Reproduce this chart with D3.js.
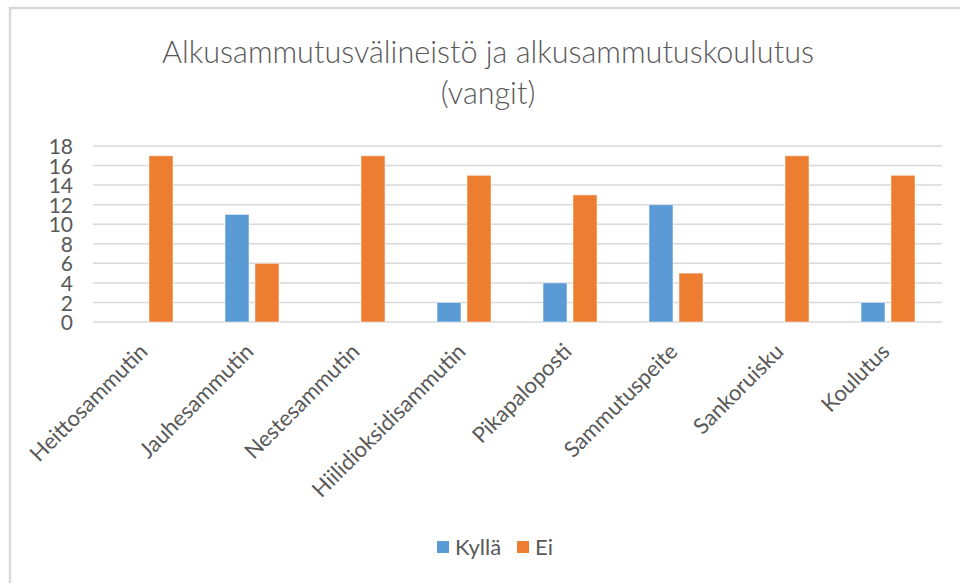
<!DOCTYPE html>
<html><head><meta charset="utf-8">
<script src="https://cdn.jsdelivr.net/npm/d3@7"></script>
<style>html,body{margin:0;padding:0;background:#fff;}svg{display:block;}</style>
</head><body>
<svg id="chart" width="960" height="583"></svg>
<script>
const categories = ["Heittosammutin","Jauhesammutin","Nestesammutin","Hiilidioksidisammutin","Pikapaloposti","Sammutuspeite","Sankoruisku","Koulutus"];
const seriesNames = ["Kyllä","Ei"];
const kylla = [0,11,0,2,4,12,0,2];
const ei = [17,6,17,15,13,5,17,15];
const yTicks = [0,2,4,6,8,10,12,14,16,18];
const titleLines = ["Alkusammutusvälineistö ja alkusammutuskoulutus","(vangit)"];
const colors = ["#5B9BD5","#ED7D31"];

(function(){
const FONT = "Lato, 'Open Sans', sans-serif";
const svg = d3.select("#chart");
svg.append("rect").attr("x",0).attr("y",0).attr("width",960).attr("height",583).attr("fill","#fff");
svg.append("rect").attr("x",10).attr("y",8).attr("width",1200).attr("height",1200)
  .attr("fill","none").attr("stroke","#d9d9d9").attr("stroke-width",2.5);

const mLeft = 93, mRight = 941, mTop = 146, mBottom = 322;
const x = d3.scaleBand().domain(categories).range([mLeft,mRight]).paddingInner(0).paddingOuter(0);
const x1 = d3.scaleBand().domain(seriesNames).range([26, x.bandwidth()-26]).paddingInner(0.2);
const y = d3.scaleLinear().domain([0,18]).range([mBottom,mTop]);

svg.append("g").selectAll("line").data(yTicks).join("line")
  .attr("x1",mLeft).attr("x2",mRight+1)
  .attr("y1",d=>y(d)).attr("y2",d=>y(d))
  .attr("stroke","#d9d9d9").attr("stroke-width",1.5);

const yAxis = d3.axisLeft(y).tickValues(yTicks).tickSize(0).tickPadding(0);
const gy = svg.append("g").attr("transform",`translate(73,0)`).call(yAxis);
gy.select(".domain").remove();
gy.selectAll("text").attr("font-family",FONT).attr("font-size",21).attr("fill","#595959").attr("dy","0.36em");

const data = categories.map((c,i)=>({c, vals:[kylla[i],ei[i]]}));
const groups = svg.append("g").selectAll("g").data(data).join("g")
  .attr("transform",d=>`translate(${x(d.c)},0)`);
groups.selectAll("rect").data(d=>d.vals.map((v,j)=>({s:seriesNames[j],v,j})).filter(d=>d.v>0)).join("rect")
  .attr("x",d=>x1(d.s)).attr("width",x1.bandwidth())
  .attr("y",d=>y(d.v)).attr("height",d=>y(0)-y(d.v))
  .attr("fill",d=>colors[d.j]).attr("stroke","#fff").attr("stroke-opacity",0.5).attr("stroke-width",1);

svg.append("g").selectAll("text").data(categories).join("text")
  .attr("transform",d=>`translate(${x(d)+x.bandwidth()/2+3},353) rotate(-45)`)
  .attr("text-anchor","end").attr("font-family",FONT).attr("font-size",22).attr("fill","#595959")
  .text(d=>d);

const t = svg.append("g").selectAll("text").data(titleLines).join("text")
  .attr("x",488).attr("y",(d,i)=>63+i*41).attr("text-anchor","middle")
  .attr("font-family",FONT).attr("font-weight",300).attr("font-size",30).attr("fill","#595959")
  .text(d=>d);
const w0 = t.nodes()[0].getComputedTextLength();
t.attr("font-size",30*652/w0);

const legend = svg.append("g");
const lx = [437,517];
seriesNames.forEach((s,i)=>{
  legend.append("rect").attr("x",lx[i]).attr("y",541).attr("width",12).attr("height",12).attr("fill",colors[i]);
  legend.append("text").attr("x",lx[i]+18).attr("y",547).attr("dy","0.36em")
    .attr("font-family",FONT).attr("font-size",22).attr("fill","#595959").text(s);
});
})();
</script>
</body></html>
